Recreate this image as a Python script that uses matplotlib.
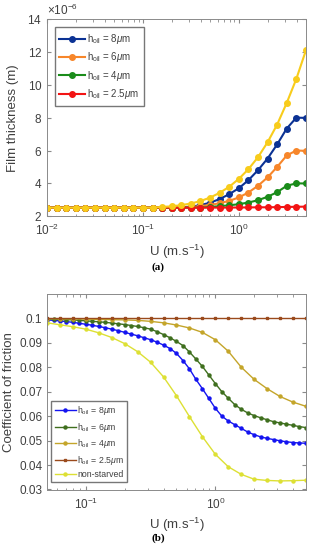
import numpy as np
import matplotlib
matplotlib.use("Agg")
import matplotlib.pyplot as plt
from matplotlib.ticker import ScalarFormatter, LogLocator, NullFormatter

plt.rcParams['font.family'] = ['Liberation Sans', 'DejaVu Sans']
plt.rcParams['mathtext.fontset'] = 'custom'
plt.rcParams['mathtext.rm'] = 'Liberation Sans'
plt.rcParams['mathtext.it'] = 'Liberation Sans:italic'

# ---- (a) film thickness, U from 1e-2 to 5 (0.1 decade steps)
u_a = 10 ** np.linspace(-2, 0.7, 28)
film_8 = [2.52] * 14 + [2.54, 2.58, 2.67, 2.82, 3.04, 3.34, 3.70, 4.19, 4.80, 5.51, 6.37, 7.34, 8.00, 7.99]
film_6 = [2.52] * 15 + [2.55, 2.61, 2.68, 2.79, 2.93, 3.14, 3.44, 3.85, 4.36, 5.00, 5.70, 6.00, 5.98]
film_4 = [2.52] * 17 + [2.56, 2.61, 2.66, 2.73, 2.83, 2.97, 3.18, 3.46, 3.85, 4.00, 3.99]
film_25 = [2.52] * 20 + [2.53, 2.53, 2.54, 2.54, 2.55, 2.56, 2.57, 2.58]
film_ns = [2.52] * 12 + [2.56, 2.60, 2.67, 2.77, 2.92, 3.13, 3.42, 3.79, 4.27, 4.86, 5.59, 6.50, 7.58, 8.90, 10.36, 12.10]
labels_a = [r'h$_{\rm oil}$ = 8$\mu$m', r'h$_{\rm oil}$ = 6$\mu$m',
            r'h$_{\rm oil}$ = 4$\mu$m', r'h$_{\rm oil}$ = 2.5$\mu$m']

# ---- (b) friction coefficient, U from 0.05 to 5
u_b_fine = 10 ** np.linspace(-1.3, 0.7, 41)
u_b = 10 ** np.linspace(-1.3, 0.7, 21)
cof_8 = [0.0993, 0.0991, 0.0989, 0.0986, 0.0983, 0.0979, 0.0975, 0.0971, 0.0966, 0.0961,
         0.0955, 0.0949, 0.0942, 0.0935, 0.0928, 0.0920, 0.0912, 0.0902, 0.0890, 0.0876,
         0.0856, 0.0827, 0.0793, 0.0750, 0.0712, 0.0672, 0.0632, 0.0600, 0.0580, 0.0565,
         0.0550, 0.0535, 0.0524, 0.0515, 0.0509, 0.0504, 0.0499, 0.0495, 0.0492, 0.0490, 0.0489]
cof_6 = [0.0996, 0.0996, 0.0995, 0.0994, 0.0993, 0.0991, 0.0989, 0.0987, 0.0985, 0.0983,
         0.0980, 0.0977, 0.0974, 0.0970, 0.0966, 0.0961, 0.0955, 0.0945, 0.0933, 0.0920,
         0.0905, 0.0888, 0.0862, 0.0833, 0.0803, 0.0768, 0.0733, 0.0700, 0.0673, 0.0647,
         0.0628, 0.0613, 0.0602, 0.0593, 0.0585, 0.0577, 0.0572, 0.0567, 0.0562, 0.0557, 0.0553]
cof_4 = [0.0998, 0.0997, 0.0997, 0.0996, 0.0995, 0.0994, 0.0993, 0.0991, 0.0987, 0.0981,
         0.0972, 0.0960, 0.0942, 0.0912, 0.0865, 0.0800, 0.0750, 0.0712, 0.0680, 0.0657, 0.0640]
cof_25 = [0.1] * 21
cof_ns = [0.0981, 0.0973, 0.0965, 0.0955, 0.0940, 0.0921, 0.0896, 0.0863, 0.0820, 0.0760,
          0.0683, 0.0598, 0.0516, 0.0444, 0.0393, 0.0362, 0.0342, 0.0337, 0.0335, 0.0336, 0.0338]
labels_b = labels_a + ['non-starved']

txt = '#404040'
spine = '#8a8a8a'

fig = plt.figure(figsize=(3.16, 5.5), dpi=100)
ax1 = fig.add_axes([0.149, 0.607, 0.819, 0.358])
ax2 = fig.add_axes([0.149, 0.110, 0.819, 0.356])


def style(ax):
    ax.set_xscale('log')
    ax.tick_params(which='both', direction='in', top=True, right=True,
                   colors=spine, labelcolor=txt, labelsize=8.5)
    ax.tick_params(which='major', length=3)
    ax.tick_params(which='minor', length=1.8)
    ax.tick_params(axis='x', which='major', pad=5)
    for s in ax.spines.values():
        s.set_color(spine)
        s.set_linewidth(0.7)


# (a)
style(ax1)
m = dict(marker='o', ms=4, lw=1.5)
ax1.plot(u_a, np.array(film_8) * 1e-6, color='#0b3294', label=labels_a[0], **m)
ax1.plot(u_a, np.array(film_6) * 1e-6, color='#f7862a', label=labels_a[1], **m)
ax1.plot(u_a, np.array(film_4) * 1e-6, color='#1a8c1a', label=labels_a[2], **m)
ax1.plot(u_a, np.array(film_25) * 1e-6, color='#f21414', label=labels_a[3], **m)
ax1.plot(u_a, np.array(film_ns) * 1e-6, color='#f8cc1b', **m)
ax1.set_xlim(1e-2, 10 ** 0.7)
ax1.set_ylim(2e-6, 14e-6)
ax1.set_yticks(np.arange(2, 15, 2) * 1e-6)
fmt = ScalarFormatter(useMathText=True)
fmt.set_powerlimits((-6, -6))
ax1.yaxis.set_major_formatter(fmt)
ax1.yaxis.get_offset_text().set_color(txt)
ax1.yaxis.get_offset_text().set_fontsize(8.5)
ax1.xaxis.set_major_locator(LogLocator(base=10, numticks=10))
ax1.set_xlabel(r'U (m.s$^{-1}$)', color=txt, fontsize=9.5, labelpad=3)
ax1.set_ylabel('Film thickness (m)', color=txt, fontsize=9.5, labelpad=6)
leg = ax1.legend(loc='upper left', fontsize=7, frameon=True, fancybox=False,
                 edgecolor='#555555', borderpad=0.5, labelspacing=0.45,
                 handlelength=2.6, handletextpad=0.2, bbox_to_anchor=(0.01, 0.985))
for t in leg.get_texts():
    t.set_color(txt)
fig.text(0.5, 0.514, '(a)', ha='center', va='center', fontsize=8,
         fontweight='bold', family='Liberation Serif')

# (b)
style(ax2)
mb = dict(marker='o', ms=2.2, lw=1.0)
ax2.plot(u_b_fine, cof_8, color='#1414f0', label=labels_b[0], **mb)
ax2.plot(u_b_fine, cof_6, color='#3f6f1e', label=labels_b[1], **mb)
ax2.plot(u_b, cof_4, color='#c4a52a', label=labels_b[2], **mb)
ax2.plot(u_b, cof_25, color='#9a4a1c', label=labels_b[3], marker='s', ms=2, lw=1.0)
ax2.plot(u_b, cof_ns, color='#dde034', label=labels_b[4], **mb)
ax2.set_xlim(10 ** -1.3, 10 ** 0.7)
ax2.set_ylim(0.03, 0.11)
ax2.set_yticks(np.arange(0.03, 0.101, 0.01))
ax2.set_yticklabels(['0.03', '0.04', '0.05', '0.06', '0.07', '0.08', '0.09', '0.1'])
ax2.xaxis.set_minor_formatter(NullFormatter())
ax2.set_xlabel(r'U (m.s$^{-1}$)', color=txt, fontsize=9.5, labelpad=3)
ax2.set_ylabel('Coefficient of friction', color=txt, fontsize=9.5, labelpad=3)
leg2 = ax2.legend(loc='lower left', fontsize=6.3, frameon=True, fancybox=False,
                  edgecolor='#555555', borderpad=0.35, labelspacing=0.4,
                  handlelength=2.4, handletextpad=0.2, bbox_to_anchor=(0.0, 0.015))
for t in leg2.get_texts():
    t.set_color(txt)
fig.text(0.5, 0.022, '(b)', ha='center', va='center', fontsize=8,
         fontweight='bold', family='Liberation Serif')

fig.savefig('out.png', dpi=100)
